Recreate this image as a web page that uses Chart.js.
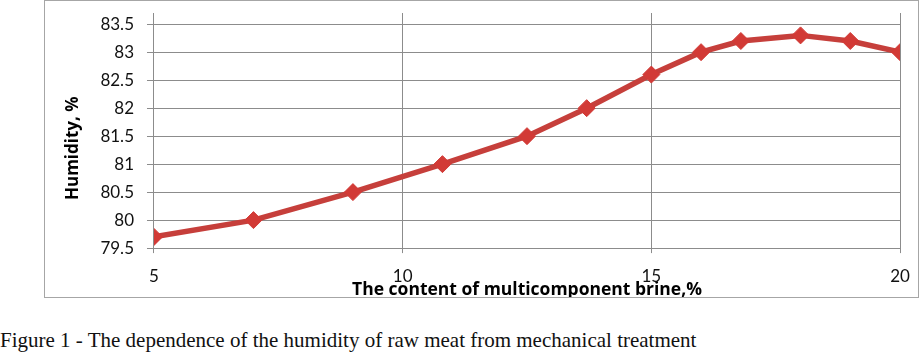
<!DOCTYPE html>
<html>
<head>
<meta charset="utf-8">
<script src="https://cdn.jsdelivr.net/npm/chart.js@4/dist/chart.umd.min.js"></script>
<style>
  body { margin: 0; background: #fff; width: 924px; height: 354px; position: relative; overflow: hidden; }
  #box { position: absolute; left: 44px; top: 0px; width: 873px; height: 296px; border: 1px solid #a6a6a6; }
  #caption { position: absolute; left: 0px; top: 328px; font-family: "Liberation Serif", serif; font-size: 21px; color: #111; white-space: nowrap; }
</style>
</head>
<body>
<div id="box"><canvas id="humidityChart" width="873" height="296"></canvas></div>
<div id="caption">Figure 1 - The dependence of the humidity of raw meat from mechanical treatment</div>
<script>
// data
const brineContent = [5, 7, 9, 10.8, 12.5, 13.7, 15, 16, 16.8, 18, 19, 20];
const humidity = [79.7, 80.0, 80.5, 81.0, 81.5, 82.0, 82.6, 83.0, 83.2, 83.3, 83.2, 83.0];
const xTicks = [5, 10, 15, 20];
const yTicks = [79.5, 80, 80.5, 81, 81.5, 82, 82.5, 83, 83.5];

const points = brineContent.map((x, i) => ({ x: x, y: humidity[i] }));

const chart1 = document.getElementById("humidityChart");

new Chart(chart1, {
    type: 'scatter',
    data: {
        datasets: [{
            data: points,
            showLine: true,
            borderColor: '#c63f3b',
            borderWidth: 5.5,
            pointStyle: 'rectRot',
            pointRadius: 8.5,
            pointBackgroundColor: '#d23a36',
            pointBorderColor: '#d23a36',
            pointBorderWidth: 1
        }]
    },
    options: {
        responsive: false,
        animation: false,
        layout: { padding: { left: 0, right: 0, top: 0, bottom: 0 } },
        plugins: { legend: { display: false }, tooltip: { enabled: false } },
        scales: {
            x: {
                type: 'linear',
                min: 5,
                max: 20,
                afterBuildTicks: (axis) => { axis.ticks = xTicks.map(v => ({ value: v })); },
                afterFit: (scale) => { scale.paddingRight = 18; },
                grid: { color: '#8c8c8c', lineWidth: 1, drawTicks: true, tickLength: 5 },
                border: { display: false },
                ticks: { color: '#111', font: { family: 'Lato', size: 17 }, padding: 13, callback: (v) => String(v) },
                title: {
                    display: true,
                    text: 'The content of multicomponent brine,%',
                    color: '#000',
                    font: { family: 'Open Sans', size: 17.5, weight: 'bold' },
                    padding: { top: -20, bottom: -3.5 }
                }
            },
            y: {
                min: 79.5,
                max: 83.7,
                afterBuildTicks: (axis) => { axis.ticks = yTicks.map(v => ({ value: v })); },
                afterFit: (scale) => { scale.paddingTop = 12; },
                grid: { color: '#8c8c8c', lineWidth: 1, drawTicks: true, tickLength: 7 },
                border: { display: false },
                ticks: { color: '#111', font: { family: 'Lato', size: 17 }, padding: 13, callback: (v) => String(v) },
                title: {
                    display: true,
                    text: 'Humidity, %        ',   // trailing spaces push the label a bit lower like the original
                    color: '#000',
                    font: { family: 'Open Sans', size: 17, weight: 'bold' },
                    padding: { top: 18, bottom: 4 }
                }
            }
        }
    }
});
</script>
</body>
</html>
